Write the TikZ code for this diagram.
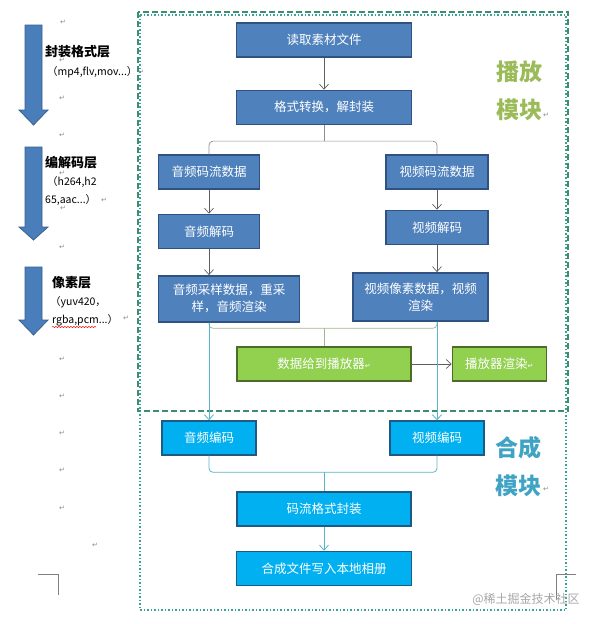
\documentclass[tikz,border=0pt]{standalone}
\usepackage{fontspec}
\setmainfont{Noto Sans CJK SC}
\newfontfamily\retfont{DejaVu Sans}
\usepackage{xcolor}
\usetikzlibrary{positioning,calc,arrows.meta,decorations.pathmorphing}
\definecolor{boxblue}{HTML}{4F81BD}
\definecolor{boxblueedge}{HTML}{2F5283}
\definecolor{boxgreen}{HTML}{92D050}
\definecolor{boxgreenedge}{HTML}{4F6B2A}
\definecolor{boxcyan}{HTML}{00B0F0}
\definecolor{boxcyanedge}{HTML}{1F5A85}
\definecolor{layerblue}{HTML}{4A7EBB}
\definecolor{layeredge}{HTML}{36618F}
\definecolor{playgreen}{HTML}{9BBB59}
\definecolor{muxteal}{HTML}{3FA3C4}
\definecolor{frameline}{HTML}{3E8E6E}
\definecolor{framedot}{HTML}{36A398}
\definecolor{linkgray}{HTML}{5F5F5F}
\definecolor{bracegray}{HTML}{8E8E8E}
\definecolor{braceolive}{HTML}{A3B48E}
\definecolor{linkteal}{HTML}{58B4C8}
\definecolor{retgray}{HTML}{8A8A8A}

\begin{document}
\begin{tikzpicture}[x=1pt, y=-1pt, >={Straight Barb[length=5pt,width=9pt]},
  every node/.style={inner sep=0pt, font=\fontsize{12.5}{17}\selectfont},
  pbox/.style={draw=boxblueedge, fill=boxblue, line width=1.4pt, text=white, minimum height=34pt, align=center},
  gbox/.style={draw=boxgreenedge, fill=boxgreen, line width=1.4pt, text=white, minimum height=34pt, align=center},
  cbox/.style={draw=boxcyanedge, fill=boxcyan, line width=1.4pt, text=white, minimum height=34pt, align=center},
  layer/.style={draw=layeredge, fill=layerblue, line width=0.8pt},
  layertitle/.style={anchor=west, font=\bfseries\fontsize{13}{15}\selectfont},
  layernote/.style={anchor=west, font=\fontsize{10.5}{13}\selectfont},
  modtitle/.style={align=center, font=\bfseries\fontsize{23}{38}\selectfont},
  retmark/.style={text=retgray, font=\retfont\fontsize{7}{8}\selectfont},
  garr/.style={->, draw=linkgray, line width=0.7pt},
  tarr/.style={->, draw=linkteal, line width=0.8pt}]
\useasboundingbox (0,0) rectangle (600,624);
% module frames
\draw[draw=framedot, line width=1.5pt, dash pattern=on 1.5pt off 2pt] (140,15) rectangle (566,610);
\draw[draw=frameline, line width=1.5pt, dash pattern=on 6pt off 3pt] (138,12) rectangle (568,411);
% layer arrows on the left
\draw[layer] (25,25) -- (42,25) -- (42,110) -- (48,110) -- (33.5,125) -- (19,110) -- (25,110) -- cycle;
\draw[layer] (25,147) -- (42,147) -- (42,227) -- (48,227) -- (33.5,240) -- (19,227) -- (25,227) -- cycle;
\draw[layer] (25,267) -- (42,267) -- (42,320) -- (48,320) -- (33.5,335) -- (19,320) -- (25,320) -- cycle;
\node[layertitle] (encap) at (45,52) {封装格式层};
\node[layernote] (encapfmt) at (47,72) {（mp4,flv,mov...）};
\node[layertitle] (codec) at (45,163) {编解码层};
\node[layernote] (codecfmt) at (47,182) {（h264,h2};
\node[layernote] (codecfmt2) at (45,200) {65,aac...）};
\node[layertitle] (pixel) at (52,283) {像素层};
\node[layernote] (pixelfmt) at (50,302) {（yuv420，};
\node[layernote] (pixelfmt2) at (52,320) {rgba,pcm...）};
\draw[red, line width=0.5pt, decorate, decoration={snake, amplitude=0.6pt, segment length=3pt}] (52,327) -- (96,327);
% paragraph marks
\foreach \px/\py [count=\i] in {63/22, 62/60, 141/72, 62/98, 62/135, 62/173, 104/200, 63/208, 62/247, 126/318, 62/359, 62/396, 62/433, 62/470, 62/508, 95/545, 546/115, 546/489}
  \node[retmark] (ret\i) at (\px,\py) {↵};
% page corner marks
\draw[gray, line width=0.6pt] (38,574) -- (58,574) -- (58,595);
\draw[gray, line width=0.6pt] (576,574) -- (556,574) -- (556,600);
% playback module
\node[pbox, minimum width=175pt] (read) at (324,40) {读取素材文件};
\node[pbox, minimum width=175pt, below=32pt of read] (demux) {格式转换，解封装};
\node[pbox, minimum width=101pt] (astream) at (209,172) {音频码流数据};
\node[pbox, minimum width=102pt] (vstream) at (437,172) {视频码流数据};
\node[pbox, minimum width=101pt, below=24pt of astream] (adec) {音频解码};
\node[pbox, minimum width=102pt, below=20pt of vstream] (vdec) {视频解码};
\node[pbox, minimum width=141pt, minimum height=46pt, below right=26pt and 0pt of adec.south west] (asample) {音频采样数据，重采\\样，音频渲染};
\node[pbox, minimum width=135pt, minimum height=48pt, below left=27pt and 0pt of vdec.south east] (vpixel) {视频像素数据，视频\\渲染};
\node[gbox, minimum width=174pt] (feed) at (324,364) {数据给到播放器{\retfont\fontsize{7}{8}\selectfont ↵}};
\node[gbox, minimum width=94pt, right=40pt of feed] (render) {播放器渲染{\retfont\fontsize{7}{8}\selectfont ↵}};
\node[modtitle, text=playgreen] (playtitle) at (519,91) {播放\\模块};
% muxing module
\node[cbox, minimum width=94pt] (aenc) at (209,438) {音频编码};
\node[cbox, minimum width=94pt] (venc) at (437,438) {视频编码};
\node[cbox, minimum width=174pt] (mux) at (324,509) {码流格式封装};
\node[cbox, minimum width=175pt, below=24pt of mux] (write) {合成文件写入本地相册};
\node[modtitle, text=muxteal] (muxtitle) at (518,467) {合成\\模块};
\node[text=black!35, font=\fontsize{12}{14}\selectfont] (mark) at (526,599) {@稀土掘金技术社区};
% connectors
\coordinate (split1) at ($(demux.south)+(0,16)$);
\coordinate (join2) at ($(feed.north)+(0,-18)$);
\coordinate (join3) at ($(mux.north)+(0,-19)$);
\draw[garr] (read) -- (demux);
\draw[bracegray, line width=0.7pt] (demux.south) -- (split1);
\draw[bracegray, line width=0.7pt, rounded corners=4pt] (astream.north) |- (split1) -| (vstream.north);
\draw[garr] (astream) -- (adec);
\draw[garr] (vstream) -- (vdec);
\draw[garr] (adec.south) -- (adec.south |- asample.north);
\draw[garr] (vdec.south) -- (vdec.south |- vpixel.north);
\draw[braceolive, line width=0.7pt, rounded corners=4pt] (asample.south -| adec.south) |- (join2) -| (vpixel.south -| vdec.south);
\draw[braceolive, line width=0.7pt] (join2) -- (feed.north);
\draw[garr] (feed) -- (render);
\draw[tarr] (asample.south -| aenc.north) -- (aenc.north);
\draw[tarr] (vpixel.south -| venc.north) -- (venc.north);
\draw[linkteal, line width=0.8pt, rounded corners=4pt] (aenc.south) |- (join3) -| (venc.south);
\draw[linkteal, line width=0.8pt] (join3) -- (mux.north);
\draw[tarr] (mux) -- (write);
\end{tikzpicture}
\end{document}
